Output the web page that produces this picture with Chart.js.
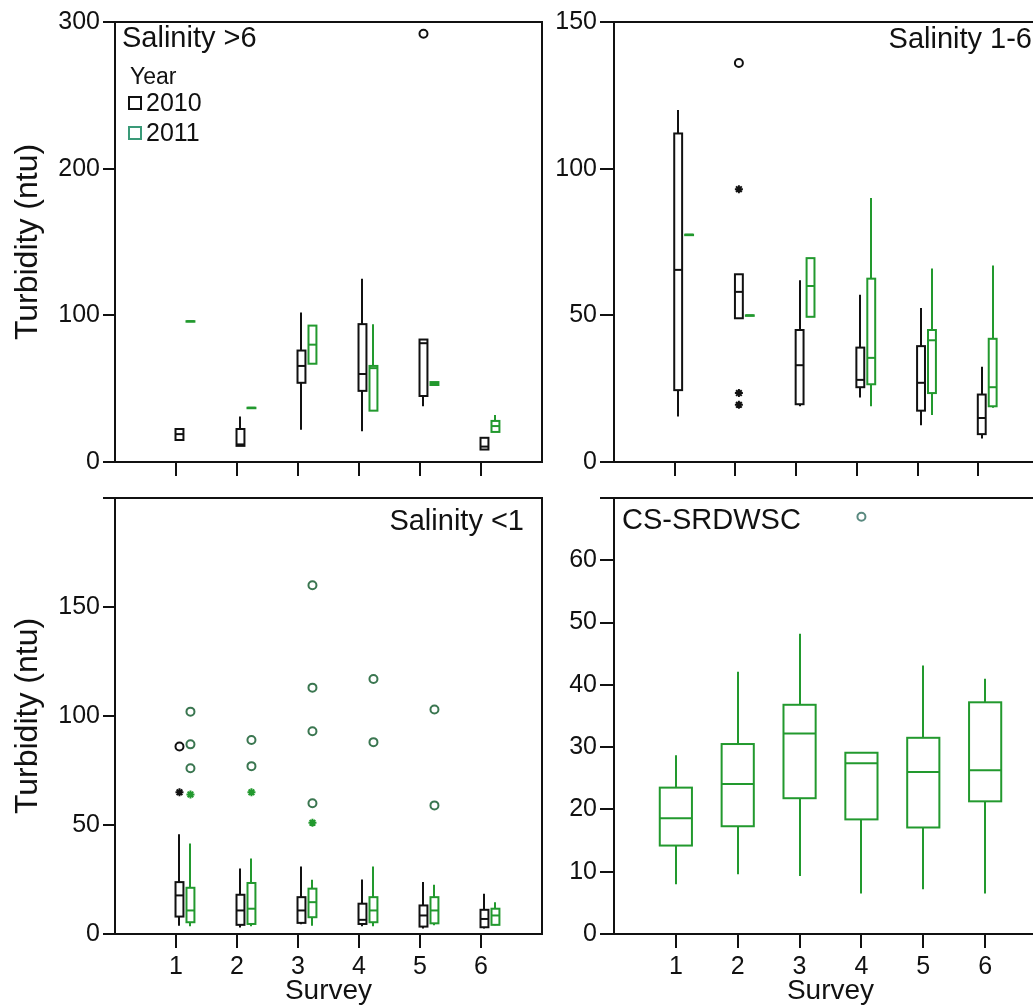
<!DOCTYPE html>
<html>
<head>
<meta charset="utf-8">
<script src="https://cdn.jsdelivr.net/npm/chart.js@4.4.1/dist/chart.umd.min.js"></script>
<style>
  html, body { margin: 0; padding: 0; background: #fff; overflow: hidden; }
  #page { position: relative; width: 1033px; height: 1006px; overflow: hidden; background: #fff; }
  canvas { position: absolute; }
</style>
</head>
<body>
<div id="page">
  <canvas id="salHigh" style="left:0;top:0;width:548px;height:480px" width="548" height="480"></canvas>
  <canvas id="salMid" style="left:548px;top:0;width:500px;height:480px" width="500" height="480"></canvas>
  <canvas id="salLow" style="left:0;top:480px;width:548px;height:526px" width="548" height="526"></canvas>
  <canvas id="csPanel" style="left:548px;top:480px;width:510px;height:526px" width="510" height="526"></canvas>
</div>
<script>
// ==============================
//  data (box stats = [min, Q1, median, Q3, max])
// ==============================
const surveys = [1, 2, 3, 4, 5, 6];

// Salinity >6
const salHigh2010 = [[15, 15, 19, 22.5, 22.5], [11, 11, 12, 22.5, 31], [22, 54, 65.5, 76, 102], [21, 48.5, 60, 94, 125], [38, 45, 81, 83.5, 83.5], [8.5, 8.5, 10.5, 16.5, 16.5]];
const salHigh2011 = [[96, 96, 96, 96, 96], [37, 37, 37, 37, 37], [67, 67, 80, 93, 93], [35, 35, 64, 65.5, 94], [52.5, 52.5, 53.5, 54.5, 54.5], [20.5, 20.5, 24.5, 28, 32]];
const salHighCircles2010 = [[5, 292]];

// Salinity 1-6
const salMid2010 = [[15.5, 24.5, 65.5, 112, 120], [49, 49, 58, 64, 64], [19, 19.7, 33, 45, 62], [22, 25.5, 28, 39, 57], [12.5, 17.5, 27, 39.5, 52.5], [8, 9.5, 15, 23, 32.5]];
const salMid2011 = [[77.5, 77.5, 77.5, 77.5, 77.5], [50, 50, 50, 50, 50], [49.5, 49.5, 60, 69.5, 69.5], [19, 26.5, 35.5, 62.5, 90], [16, 23.5, 41.5, 45, 66], [18.5, 19, 25.5, 42, 67]];
const salMidCircles2010 = [[2, 136]];
const salMidStars2010 = [[2, 93], [2, 23.5], [2, 19.5]];

// Salinity <1
const salLow2010 = [[3.8, 8, 17.7, 23.8, 45.7], [3, 4.2, 10.8, 18, 30], [4.5, 5.1, 10.8, 16.9, 31], [3.5, 4.6, 6.5, 13.9, 25], [2.5, 3.4, 8.5, 13.1, 23.8], [2.5, 3.1, 6.9, 11.1, 18.5]];
const salLow2011 = [[3.5, 5.4, 10.8, 21.2, 41.5], [3.5, 4.6, 11.6, 23.4, 34.6], [3.8, 7.7, 14.6, 20.8, 24.9], [3.5, 5.4, 10.8, 16.9, 31], [4, 4.9, 10.8, 16.9, 22.6], [4, 4.2, 8.5, 11.6, 14.6]];
const salLowCircles2010 = [[1, 86]];
const salLowStars2010 = [[1, 65]];
const salLowCircles2011 = [[1, 102], [1, 87], [1, 76], [2, 89], [2, 77], [3, 160], [3, 113], [3, 93], [3, 60], [4, 117], [4, 88], [5, 103], [5, 59]];
const salLowStars2011 = [[1, 64], [2, 65], [3, 51]];

// CS-SRDWSC (2011 only)
const cs2011 = [[8, 14.2, 18.6, 23.5, 28.7], [9.6, 17.3, 24.1, 30.5, 42.1], [9.3, 21.8, 32.2, 36.8, 48.2], [6.5, 18.4, 27.4, 29.1, 29.1], [7.2, 17.1, 26, 31.5, 43.1], [6.5, 21.3, 26.3, 37.2, 41]];
const csCircles2011 = [[4, 67]];

const yearLabels = ["2010", "2011"];

// ==============================
//  styles
// ==============================
const FONT = "'Liberation Sans', Arial, sans-serif";
const INK = "#111";
const GREEN = "#22992e";
const GREEN_DARK = "#3a7650";

// box plot drawing through the chart's own scales
const boxPlugin = (groups) => ({
  id: "boxes",
  afterDatasetsDraw(chart) {
    const { ctx, scales: { x, y } } = chart;
    groups.forEach(g => {
      ctx.save();
      ctx.strokeStyle = g.color;
      ctx.lineWidth = 2;
      g.stats.forEach((s, i) => {
        const [lo, q1, med, q3, hi] = s;
        const pos = surveys[i] + g.offset;
        const cx = Math.round(x.getPixelForValue(pos));
        const xl = x.getPixelForValue(pos - g.width / 2);
        const xr = x.getPixelForValue(pos + g.width / 2);
        ctx.beginPath();
        ctx.moveTo(cx, y.getPixelForValue(hi));
        ctx.lineTo(cx, y.getPixelForValue(q3));
        ctx.moveTo(cx, y.getPixelForValue(q1));
        ctx.lineTo(cx, y.getPixelForValue(lo));
        ctx.stroke();
        const top = y.getPixelForValue(q3);
        const bot = y.getPixelForValue(q1);
        ctx.strokeRect(xl, top, xr - xl, Math.max(bot - top, 0.5));
        ctx.beginPath();
        ctx.moveTo(xl, y.getPixelForValue(med));
        ctx.lineTo(xr, y.getPixelForValue(med));
        ctx.stroke();
      });
      ctx.restore();
    });
  }
});

// frame + panel texts
const framePlugin = (texts, legend) => ({
  id: "frame",
  afterDraw(chart) {
    const { ctx, chartArea: a } = chart;
    ctx.save();
    ctx.strokeStyle = INK;
    ctx.lineWidth = 2;
    ctx.strokeRect(a.left, a.top, a.right - a.left, a.bottom - a.top);
    ctx.fillStyle = INK;
    ctx.textBaseline = "middle";
    texts.forEach(t => {
      ctx.font = `${t.size}px ${FONT}`;
      ctx.textAlign = t.align;
      const tx = t.align === "right" ? a.right - t.dx : a.left + t.dx;
      ctx.fillText(t.text, tx, a.top + t.dy);
    });
    if (legend) {
      ctx.textAlign = "left";
      ctx.font = `23px ${FONT}`;
      ctx.fillText("Year", a.left + 15, a.top + 56);
      ctx.font = `25px ${FONT}`;
      const colors = [INK, "#3a9a78"];
      yearLabels.forEach((lab, i) => {
        const cy = a.top + 81 + i * 30;
        ctx.strokeStyle = colors[i];
        ctx.lineWidth = 2;
        ctx.strokeRect(a.left + 14, cy - 6, 12, 12);
        ctx.fillStyle = INK;
        ctx.fillText(lab, a.left + 31, cy + 1);
      });
    }
    ctx.restore();
  }
});

const pointSet = (points, offset, color, style) => ({
  data: points.map(([s, v]) => ({ x: s + offset, y: v })),
  pointStyle: style,
  radius: style === "star" ? 4 : 4,
  borderColor: color,
  backgroundColor: style === "star" ? color : "#fff",
  borderWidth: 2,
  showLine: false
});

function makePanel(id, p) {
  new Chart(document.getElementById(id), {
    type: "scatter",
    data: { datasets: p.points },
    options: {
      responsive: false,
      animation: false,
      devicePixelRatio: 1,
      layout: { padding: { top: p.padTop, right: p.padRight, left: 0, bottom: 0 } },
      plugins: { legend: { display: false }, tooltip: { enabled: false } },
      scales: {
        x: {
          type: "linear",
          min: 0,
          max: 7,
          afterBuildTicks: s => { s.ticks = surveys.map(v => ({ value: v })); },
          afterFit: s => { s.height = p.xHeight; },
          grid: { drawOnChartArea: false, drawTicks: true, tickLength: 14, color: INK, lineWidth: 2 },
          border: { display: true, color: INK, width: 2 },
          ticks: {
            padding: 4,
            color: INK,
            font: { family: FONT, size: 25 },
            callback: v => p.xLabels ? String(v) : ""
          },
          title: {
            display: p.xLabels,
            text: "Survey",
            color: INK,
            font: { family: FONT, size: 28, lineHeight: 1 },
            padding: { top: 0, bottom: 1 }
          }
        },
        y: {
          min: 0,
          max: p.yMax,
          afterBuildTicks: s => { s.ticks = p.yTicks.map(v => ({ value: v })); },
          afterFit: s => { s.width = p.yWidth; },
          grid: { drawOnChartArea: false, drawTicks: true, tickLength: p.yTickLen, color: INK, lineWidth: 2 },
          border: { display: true, color: INK, width: 2 },
          ticks: {
            padding: 3,
            color: INK,
            font: { family: FONT, size: 25 },
            callback: v => p.yHidden.includes(v) ? "" : String(v)
          },
          title: {
            display: p.yTitle,
            text: "Turbidity (ntu)",
            color: INK,
            font: { family: FONT, size: 32, lineHeight: 1 },
            padding: { top: 12, bottom: 0 }
          }
        }
      }
    },
    plugins: [boxPlugin(p.boxes), framePlugin(p.texts, p.legend)]
  });
}

// ==============================
//  panels
// ==============================
const pairW = 0.13, off2010 = 0.057, off2011 = 0.237;

makePanel("salHigh", {
  padTop: 22, padRight: 5, xHeight: 15, yWidth: 115, yTickLen: 12,
  yMax: 300, yTicks: [0, 100, 200, 300], yHidden: [], yTitle: true, xLabels: false,
  boxes: [
    { stats: salHigh2010, color: INK, offset: off2010, width: pairW },
    { stats: salHigh2011, color: GREEN, offset: off2011, width: pairW }
  ],
  points: [pointSet(salHighCircles2010, off2010, INK, "circle")],
  texts: [{ text: "Salinity >6", size: 29, align: "left", dx: 7, dy: 17 }],
  legend: true
});

makePanel("salMid", {
  padTop: 22, padRight: 9, xHeight: 15, yWidth: 66, yTickLen: 14,
  yMax: 150, yTicks: [0, 50, 100, 150], yHidden: [], yTitle: false, xLabels: false,
  boxes: [
    { stats: salMid2010, color: INK, offset: off2010, width: pairW },
    { stats: salMid2011, color: GREEN, offset: off2011, width: pairW }
  ],
  points: [
    pointSet(salMidCircles2010, off2010, INK, "circle"),
    pointSet(salMidStars2010, off2010, INK, "star")
  ],
  texts: [{ text: "Salinity 1-6", size: 29, align: "right", dx: 7, dy: 18 }],
  legend: false
});

makePanel("salLow", {
  padTop: 10, padRight: 5, xHeight: 72, yWidth: 115, yTickLen: 12,
  yMax: 200, yTicks: [0, 50, 100, 150, 200], yHidden: [200], yTitle: true, xLabels: true,
  boxes: [
    { stats: salLow2010, color: INK, offset: off2010, width: pairW },
    { stats: salLow2011, color: GREEN, offset: off2011, width: pairW }
  ],
  points: [
    pointSet(salLowCircles2010, off2010, INK, "circle"),
    pointSet(salLowStars2010, off2010, INK, "star"),
    pointSet(salLowCircles2011, off2011, GREEN_DARK, "circle"),
    pointSet(salLowStars2011, off2011, GREEN, "star")
  ],
  texts: [{ text: "Salinity <1", size: 29, align: "right", dx: 18, dy: 24 }],
  legend: false
});

makePanel("csPanel", {
  padTop: 10, padRight: 11, xHeight: 72, yWidth: 66, yTickLen: 14,
  yMax: 70, yTicks: [0, 10, 20, 30, 40, 50, 60, 70], yHidden: [70], yTitle: false, xLabels: true,
  boxes: [
    { stats: cs2011, color: GREEN, offset: 0, width: 0.52 }
  ],
  points: [pointSet(csCircles2011, 0, "#5a8a80", "circle")],
  texts: [{ text: "CS-SRDWSC", size: 29, align: "left", dx: 8, dy: 23 }],
  legend: false
});
</script>
</body>
</html>
